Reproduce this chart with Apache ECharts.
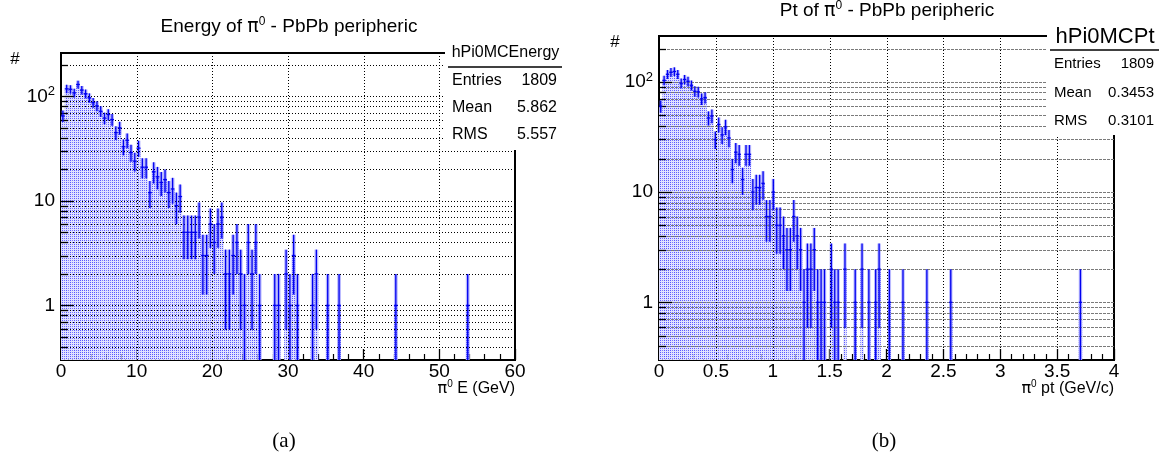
<!DOCTYPE html>
<html><head><meta charset="utf-8">
<script src="https://cdn.jsdelivr.net/npm/echarts@6.0.0/dist/echarts.min.js"></script>
<style>html,body{margin:0;padding:0;background:#fff}#c{width:1159px;height:464px}</style>
</head><body><div id="c"></div>
<script>
// ---------------- data ----------------
const energyBinWidth = 0.5;           // GeV, 120 bins from 0 to 60
const energyCounts = [
  65,118,117,108,130,115,106,97,87,81,
  72,62,67,60,45,50,33,38,29,24,
  32,21,21,12,19,17,15,16,12,13,
  9,11,5,5,5,5,7,3,3,6,
  4,6,7,2,2,3,4,2,1,4,
  2,4,1,0,0,0,1,1,0,2,
  1,3,1,0,0,0,1,2,0,0,
  1,0,0,1,0,0,0,0,0,0,
  0,0,0,0,0,0,0,0,1,0,
  0,0,0,0,0,0,0,0,0,0,
  0,0,0,0,0,0,0,1,0,0,
  0,0,0,0,0,0,0,0,0,0
];
const ptBinWidth = 0.03;              // GeV/c
const ptCounts = [
  60,103,117,122,124,117,97,105,101,93,
  82,81,70,72,47,49,30,41,33,39,
  31,16,23,22,13,22,22,10,11,11,
  12,6,6,10,5,5,4,3,3,6,
  4,3,1,2,2,3,1,1,1,0,
  2,1,1,0,2,0,0,1,0,2,
  0,1,0,1,2,0,0,1,0,0,
  0,1,0,0,0,0,0,0,1,0,
  0,0,0,0,0,1,0,0,0,0,
  0,0,0,0,0,0,0,0,0,0,
  0,0,0,0,0,0,0,0,0,0,
  0,0,0,0,0,0,0,0,0,0,
  0,0,0,1
];
const energyTicks = [0,10,20,30,40,50,60];
const ptTicks = [0,0.5,1,1.5,2,2.5,3,3.5,4];
const yDecades = [1,10,100];
const yGridValues = [0.4,0.5,0.6,0.7,0.8,0.9,1,2,3,4,5,6,7,8,9,10,20,30,40,50,60,70,80,90,100,200];
const energyStats = [['Entries','1809'],['Mean','5.862'],['RMS','5.557']];
const ptStats = [['Entries','1809'],['Mean','0.3453'],['RMS','0.3101']];
const YMIN = 0.3, YMAX = 260;

// ---------------- helpers ----------------
function binData(counts, w){
  const out = [];
  counts.forEach((c,i)=>{ if(c>0) out.push([i*w, (i+1)*w, c]); });
  return out;
}
const pc = document.createElement('canvas'); pc.width = 2; pc.height = 2;
const pg = pc.getContext('2d');
pg.fillStyle = '#e0e0ff'; pg.fillRect(0,0,2,2);
pg.fillStyle = '#5858ff'; pg.fillRect(0,0,1,1);
const pattern = {image: pc, repeat: 'repeat'};

function fillItem(params, api){
  const x0 = api.value(0), x1 = api.value(1), v = api.value(2);
  const e = Math.sqrt(v);
  const a = api.coord([x0, YMIN]), b = api.coord([x1, v]);
  const c = api.coord([x0, v+e]), d = api.coord([x1, Math.max(v-e, YMIN)]);
  return {type:'group', children:[
    {type:'rect', shape:{x:a[0], y:b[1], width:b[0]-a[0], height:a[1]-b[1]}, style:{fill: pattern}},
    {type:'rect', shape:{x:c[0], y:c[1], width:d[0]-c[0], height:d[1]-c[1]}, style:{fill:'rgba(80,80,255,0.40)'}}
  ]};
}
function errItem(params, api){
  const x0 = api.value(0), x1 = api.value(1), v = api.value(2);
  const e = Math.sqrt(v), xm = (x0+x1)/2;
  const top = api.coord([xm, v+e]), bot = api.coord([xm, Math.max(v-e, YMIN)]);
  const l = api.coord([x0, v]), r = api.coord([x1, v]);
  return {type:'group', children:[
    {type:'line', shape:{x1:top[0], y1:top[1], x2:bot[0], y2:bot[1]}, style:{stroke:'#0000f0', lineWidth:1.3}},
    {type:'line', shape:{x1:l[0], y1:l[1], x2:r[0], y2:r[1]}, style:{stroke:'#0000f0', lineWidth:1.3}}
  ]};
}
function hGrid(xr, color, dash){
  return function(params, api){
    const v = api.value(1);
    const a = api.coord([xr[0], v]), b = api.coord([xr[1], v]);
    const y = Math.round(a[1]) + 0.5;
    const lg = Math.log10(v);
    const major = Math.abs(lg - Math.round(lg)) < 1e-6;
    return {type:'group', children:[
      {type:'line', shape:{x1:a[0], y1:y, x2:b[0], y2:y}, style:{stroke:color, lineWidth:1, lineDash:dash}},
      {type:'line', shape:{x1:a[0], y1:y, x2:a[0]+(major?13:7), y2:y}, style:{stroke:'#000', lineWidth:1.3}}
    ]};
  };
}
function vGrid(color, dash){
  return function(params, api){
    const x = api.value(0);
    const a = api.coord([x, YMIN]), b = api.coord([x, YMAX]);
    const xx = Math.round(a[0]) + 0.5;
    return {type:'line', shape:{x1:xx, y1:a[1], x2:xx, y2:b[1]}, style:{stroke:color, lineWidth:1, lineDash:dash}};
  };
}
const yLabelRich = {
  b:{fontSize:19, fontFamily:'Liberation Sans', color:'#000', lineHeight:22},
  s:{fontSize:13, fontFamily:'Liberation Sans', color:'#000', lineHeight:13, verticalAlign:'top'}
};
function yFmt(v){
  const k = Math.round(Math.log10(v));
  if (Math.abs(Math.log10(v) - k) > 1e-6) return '';
  if (k === 0) return '{b|1}';
  if (k === 1) return '{b|10}';
  return '{b|10}{s|' + k + '}';
}
function xAxisCfg(gi, min, max, interval){
  return {gridIndex:gi, type:'value', min:min, max:max, interval:interval,
    axisLine:{onZero:false, lineStyle:{color:'#000', width:2}},
    axisTick:{inside:true, length:11, lineStyle:{color:'#000', width:1.3}},
    minorTick:{show:true, splitNumber:5, length:6, lineStyle:{color:'#000', width:1.2}},
    splitLine:{show:false},
    axisLabel:{color:'#000', fontSize:19, fontFamily:'Liberation Sans', margin:2,
      formatter: v => String(+v.toFixed(2))}
  };
}
function yAxisCfg(gi){
  return {gridIndex:gi, type:'log', logBase:10, min:YMIN, max:YMAX,
    axisLine:{show:true, lineStyle:{color:'#000', width:2}},
    axisTick:{show:false}, splitLine:{show:false}, minorTick:{show:false},
    axisLabel:{customValues: yDecades, formatter: yFmt, rich: yLabelRich, margin:6}
  };
}
const supRich = (fs) => ({
  t:{fontSize:fs, fontFamily:'Liberation Sans', color:'#000', lineHeight:fs+4},
  g:{fontSize:fs, fontFamily:'DejaVu Sans', color:'#000', lineHeight:fs+4},
  s:{fontSize:Math.round(fs*0.65), fontFamily:'Liberation Sans', color:'#000', lineHeight:Math.round(fs*0.65), verticalAlign:'top'}
});
function txt(x, y, text, fs, align, extra){
  return Object.assign({type:'text', x:x, y:y, z:100, style:{text:text, fontSize:fs, fontFamily:'Liberation Sans', fill:'#000', align:align||'left', verticalAlign:'middle'}}, extra||{});
}
function richTxt(x, y, text, fs, align){
  return {type:'text', x:x, y:y, z:100, style:{text:text, rich:supRich(fs), fontSize:fs, fill:'#000', align:align, verticalAlign:'middle'}};
}
function statBox(x0, x1, yTop, yBot, header, headerY, headerFs, lineY, stats, rowYs, fs){
  const els = [
    {type:'rect', z:99, shape:{x:x0, y:yTop, width:x1-x0, height:yBot-yTop}, style:{fill:'#fff'}},
    txt((x0+x1)/2 + 2, headerY, header, headerFs, 'center'),
    {type:'line', z:100, shape:{x1:x0+3, y1:lineY, x2:x1, y2:lineY}, style:{stroke:'#000', lineWidth:1.5}}
  ];
  stats.forEach((s,i)=>{
    els.push(txt(x0+7, rowYs[i], s[0], fs, 'left'));
    els.push(txt(x1-5, rowYs[i], s[1], fs, 'right'));
  });
  return els;
}

// ---------------- chart ----------------
const chart = echarts.init(document.getElementById('c'), null, {renderer:'canvas', width:1159, height:464});
const eXR = [energyTicks[0], energyTicks[energyTicks.length-1]];
const pXR = [ptTicks[0], ptTicks[ptTicks.length-1]];
const option = {
  animation:false,
  backgroundColor:'#fff',
  grid:[
    {left:61, top:53, width:454, height:307, show:true, borderColor:'#000', borderWidth:2, backgroundColor:'#fff'},
    {left:659, top:36, width:455, height:324, show:true, borderColor:'#000', borderWidth:2, backgroundColor:'#fff'}
  ],
  xAxis:[ xAxisCfg(0, eXR[0], eXR[1], 10), xAxisCfg(1, pXR[0], pXR[1], 0.5) ],
  yAxis:[ yAxisCfg(0), yAxisCfg(1) ],
  series:[
    {type:'custom', name:'eFill', xAxisIndex:0, yAxisIndex:0, z:1, clip:true, renderItem:fillItem,
      encode:{x:[0,1], y:2}, data: binData(energyCounts, energyBinWidth)},
    {type:'custom', name:'eHGrid', xAxisIndex:0, yAxisIndex:0, z:2, renderItem:hGrid(eXR, '#000', [1,2]),
      encode:{x:0, y:1}, data: yGridValues.map(v=>[eXR[0], v])},
    {type:'custom', name:'eVGrid', xAxisIndex:0, yAxisIndex:0, z:2, renderItem:vGrid('#000', [1,2]),
      encode:{x:0, y:1}, data: energyTicks.slice(1,-1).map(x=>[x, 1])},
    {type:'custom', name:'eErr', xAxisIndex:0, yAxisIndex:0, z:3, clip:true, renderItem:errItem,
      encode:{x:[0,1], y:2}, data: binData(energyCounts, energyBinWidth)},

    {type:'custom', name:'pFill', xAxisIndex:1, yAxisIndex:1, z:1, clip:true, renderItem:fillItem,
      encode:{x:[0,1], y:2}, data: binData(ptCounts, ptBinWidth)},
    {type:'custom', name:'pHGrid', xAxisIndex:1, yAxisIndex:1, z:2, renderItem:hGrid(pXR, '#7a7a7a', [3,1]),
      encode:{x:0, y:1}, data: yGridValues.map(v=>[pXR[0], v])},
    {type:'custom', name:'pVGrid', xAxisIndex:1, yAxisIndex:1, z:2, renderItem:vGrid('#000', [1,2]),
      encode:{x:0, y:1}, data: ptTicks.slice(1,-1).map(x=>[x, 1])},
    {type:'custom', name:'pErr', xAxisIndex:1, yAxisIndex:1, z:3, clip:true, renderItem:errItem,
      encode:{x:[0,1], y:2}, data: binData(ptCounts, ptBinWidth)}
  ],
  graphic:{elements:[
    richTxt(289, 27, '{t|Energy of }{g|π}{s|0}{t| - PbPb peripheric}', 19, 'center'),
    richTxt(887, 11, '{t|Pt of }{g|π}{s|0}{t| - PbPb peripheric}', 19, 'center'),
    txt(15, 59, '#', 17, 'center'),
    txt(615, 42, '#', 17, 'center'),
    richTxt(515, 389, '{g|π}{s|0}{t| E (GeV)}', 16, 'right'),
    richTxt(1114, 389, '{g|π}{s|0}{t| pt (GeV/c)}', 16, 'right'),
    ...statBox(445, 562, 40, 150, 'hPi0MCEnergy', 53, 16, 67, energyStats, [81,108,135], 16),
    ...statBox(1047, 1159, 18, 135, 'hPi0MCPt', 37, 22, 50, ptStats, [64,93,121], 15),
    {type:'text', x:284, y:441, z:100, style:{text:'(a)', fontSize:21, fontFamily:'Liberation Serif', fill:'#000', align:'center', verticalAlign:'middle'}},
    {type:'text', x:884, y:441, z:100, style:{text:'(b)', fontSize:21, fontFamily:'Liberation Serif', fill:'#000', align:'center', verticalAlign:'middle'}}
  ]}
};
chart.setOption(option);
</script>
</body></html>
